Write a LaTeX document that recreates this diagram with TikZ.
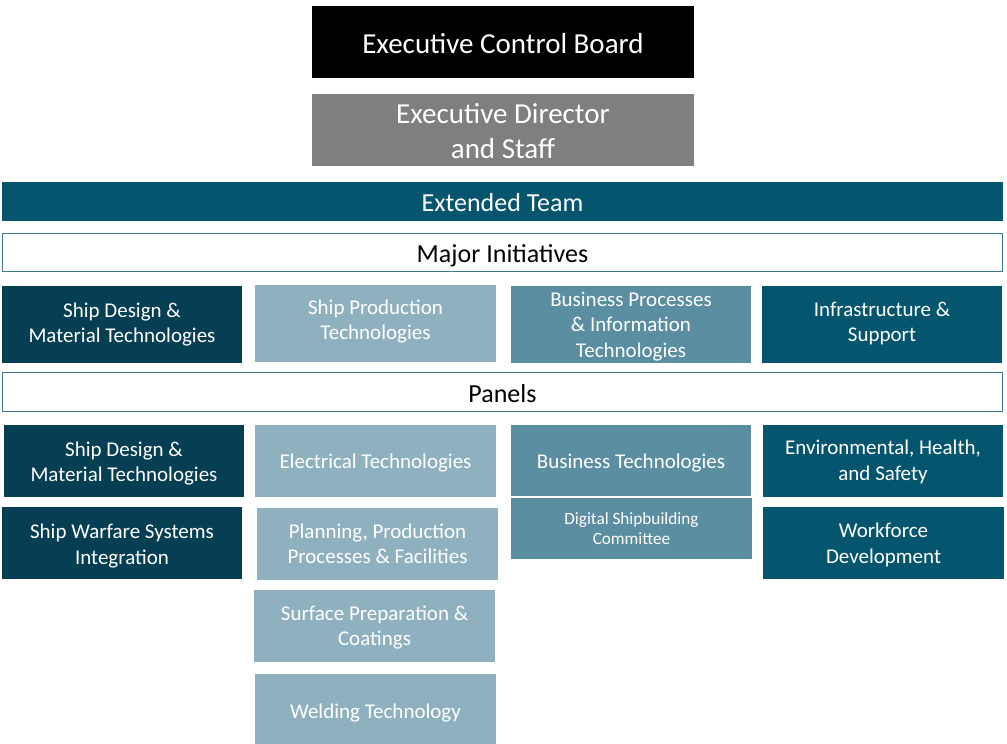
\documentclass[tikz,border=0pt]{standalone}
\usepackage{fontspec}
\setmainfont{Carlito}
\definecolor{cdark}{HTML}{063E54}
\definecolor{cteal}{HTML}{05556F}
\definecolor{clight}{HTML}{8FB1BF}
\definecolor{cmid}{HTML}{5A8EA0}
\definecolor{cgray}{HTML}{7F7F7F}
\definecolor{cborder}{HTML}{3D7A90}
\tikzset{
  box/.style={rectangle, inner sep=0pt, outer sep=0pt},
  outlinebar/.style={box, fill=white, draw=cborder, line width=1.5pt},
  tx/.style={inner sep=0pt, align=center, text=white, font=\fontsize{21}{25.5}\selectfont},
  bigtx/.style={tx, font=\fontsize{29}{35}\selectfont},
  bartx/.style={tx, font=\fontsize{26}{31}\selectfont},
  smalltx/.style={tx, font=\fontsize{17.2}{20.6}\selectfont},
}
\begin{document}
\begin{tikzpicture}[x=1pt,y=-1pt]
\useasboundingbox (0,0) rectangle (1007,744);
% top
\node[box, fill=black, minimum width=382, minimum height=72] (ecb) at (503,42) {};
\node[bigtx] (ecbt) at ([yshift=-2pt]ecb.center) {Executive Control Board};
\node[box, fill=cgray, minimum width=382, minimum height=72] (ed) at (503,130) {};
\node[bigtx] (edt) at ([yshift=-1pt]ed.center) {Executive Director\\and Staff};
\node[box, fill=cteal, minimum width=1001, minimum height=39] (et) at (502.5,201.5) {};
\node[bartx] (ett) at ([yshift=-1pt]et.center) {Extended Team};
\node[outlinebar, minimum width=1000, minimum height=38] (mi) at (502.5,252.5) {};
\node[bartx, text=black] (mit) at ([yshift=-3pt]mi.center) {Major Initiatives};
% major initiatives row
\node[box, fill=cdark, minimum width=240, minimum height=77] (misd) at (122,324.5) {};
\node[tx] (misdt) at (misd.center) {Ship Design \&\\Material Technologies};
\node[box, fill=clight, minimum width=241, minimum height=77] (misp) at (375.5,323.5) {};
\node[tx] (mispt) at ([yshift=2pt]misp.center) {Ship Production\\Technologies};
\node[box, fill=cmid, minimum width=240, minimum height=77] (mibp) at (631,324.5) {};
\node[tx] (mibpt) at ([yshift=-2pt]mibp.center) {Business Processes\\\& Information\\Technologies};
\node[box, fill=cteal, minimum width=240, minimum height=77] (miis) at (882,324.5) {};
\node[tx] (miist) at ([yshift=1pt]miis.center) {Infrastructure \&\\Support};
\node[outlinebar, minimum width=1000, minimum height=39] (pan) at (502.5,392) {};
\node[bartx, text=black] (pant) at ([yshift=-2pt]pan.center) {Panels};
% panels
\node[box, fill=cdark, minimum width=240, minimum height=72] (psd) at (124,461) {};
\node[tx] (psdt) at ([yshift=-2.5pt]psd.center) {Ship Design \&\\Material Technologies};
\node[box, fill=cdark, minimum width=240, minimum height=72] (psw) at (122,543) {};
\node[tx] (pswt) at ([yshift=-3pt]psw.center) {Ship Warfare Systems\\Integration};
\node[box, fill=clight, minimum width=241, minimum height=72] (pel) at (375.5,461) {};
\node[tx] (pelt) at ([yshift=-2pt]pel.center) {Electrical Technologies};
\node[box, fill=clight, minimum width=241, minimum height=72] (ppl) at (377.5,544) {};
\node[tx] (pplt) at (ppl.center) {Planning, Production\\Processes \& Facilities};
\node[box, fill=clight, minimum width=241, minimum height=72] (psu) at (374.5,626) {};
\node[tx] (psut) at ([yshift=-1.5pt]psu.center) {Surface Preparation \&\\Coatings};
\node[box, fill=clight, minimum width=241, minimum height=70] (pwe) at (375.5,709) {};
\node[tx] (pwet) at ([yshift=-4pt]pwe.center) {Welding Technology};
\node[box, fill=cmid, minimum width=240, minimum height=71] (pbt) at (631,460.5) {};
\node[tx] (pbtt) at ([yshift=-3pt]pbt.center) {Business Technologies};
\node[box, fill=cmid, minimum width=241, minimum height=61.5] (pds) at (631.5,528.25) {};
\node[smalltx] (pdst) at ([yshift=-0.5pt]pds.center) {Digital Shipbuilding\\Committee};
\node[box, fill=cteal, minimum width=240, minimum height=72] (peh) at (883,461) {};
\node[tx] (peht) at ([yshift=-1pt]peh.center) {Environmental, Health,\\and Safety};
\node[box, fill=cteal, minimum width=241, minimum height=72] (pwf) at (883.5,543) {};
\node[tx] (pwft) at ([yshift=-2pt]pwf.center) {Workforce\\Development};
\end{tikzpicture}
\end{document}
